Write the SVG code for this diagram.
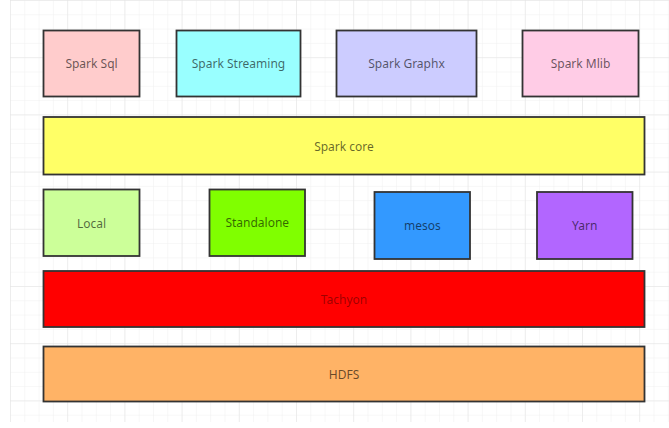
<svg xmlns="http://www.w3.org/2000/svg" width="669" height="428" viewBox="0 0 669 428">
  <defs>
    <pattern id="minor" x="10" y="0" width="14.3" height="14.3" patternUnits="userSpaceOnUse">
      <path d="M 0 0 L 0 14.3 M 0 0 L 14.3 0" fill="none" stroke="#efefef" stroke-width="1"/>
    </pattern>
    <pattern id="major" x="10" y="0" width="57.2" height="57.2" patternUnits="userSpaceOnUse">
      <path d="M 0 0 L 0 57.2 M 0 0 L 57.2 0" fill="none" stroke="#e4e4e4" stroke-width="1"/>
    </pattern>
  </defs>
  <style>
    .box { stroke: #333333; stroke-width: 1.8; }
    .lbl { font-family: "Noto Sans", "Open Sans", "Liberation Sans", sans-serif; font-size: 12px; fill: #000000; fill-opacity: 0.6; text-anchor: middle; dominant-baseline: central; }
  </style>
  <rect x="0" y="0" width="669" height="428" fill="#ffffff"/>
  <rect x="10" y="0" width="659" height="422" fill="url(#minor)"/>
  <rect x="10" y="0" width="659" height="422" fill="url(#major)"/>

  <g id="connectors"></g>

  <g id="spark-sql">
    <rect class="box" x="43.5" y="30.5" width="96" height="66" fill="#ffcccc"/>
    <text class="lbl" x="91.5" y="63.5">Spark Sql</text>
  </g>
  <g id="spark-streaming">
    <rect class="box" x="176.5" y="30.5" width="124" height="66" fill="#99ffff"/>
    <text class="lbl" x="238.5" y="63.5">Spark Streaming</text>
  </g>
  <g id="spark-graphx">
    <rect class="box" x="336.5" y="30.5" width="140" height="66" fill="#ccccff"/>
    <text class="lbl" x="406.5" y="63.5">Spark Graphx</text>
  </g>
  <g id="spark-mlib">
    <rect class="box" x="522.5" y="30.5" width="116" height="66" fill="#ffcce6"/>
    <text class="lbl" x="580.5" y="63.5">Spark Mlib</text>
  </g>
  <g id="spark-core">
    <rect class="box" x="43.5" y="117" width="601" height="57.5" fill="#ffff66"/>
    <text class="lbl" x="344" y="146.5">Spark core</text>
  </g>
  <g id="local">
    <rect class="box" x="43.5" y="189.5" width="96" height="66.5" fill="#ccff99"/>
    <text class="lbl" x="91.5" y="223">Local</text>
  </g>
  <g id="standalone">
    <rect class="box" x="209.5" y="189.5" width="95.5" height="66.5" fill="#80ff00"/>
    <text class="lbl" x="257.3" y="222.5">Standalone</text>
  </g>
  <g id="mesos">
    <rect class="box" x="374.5" y="192" width="95.5" height="67" fill="#3399ff"/>
    <text class="lbl" x="422.3" y="225.5">mesos</text>
  </g>
  <g id="yarn">
    <rect class="box" x="537" y="192" width="95.5" height="67" fill="#b266ff"/>
    <text class="lbl" x="584.7" y="225.5">Yarn</text>
  </g>
  <g id="tachyon">
    <rect class="box" x="43.5" y="271" width="601" height="56" fill="#ff0000"/>
    <text class="lbl" x="344" y="299.5" style="fill-opacity:0.4">Tachyon</text>
  </g>
  <g id="hdfs">
    <rect class="box" x="43.5" y="346.5" width="601" height="55" fill="#ffb366"/>
    <text class="lbl" x="344" y="374">HDFS</text>
  </g>
</svg>
